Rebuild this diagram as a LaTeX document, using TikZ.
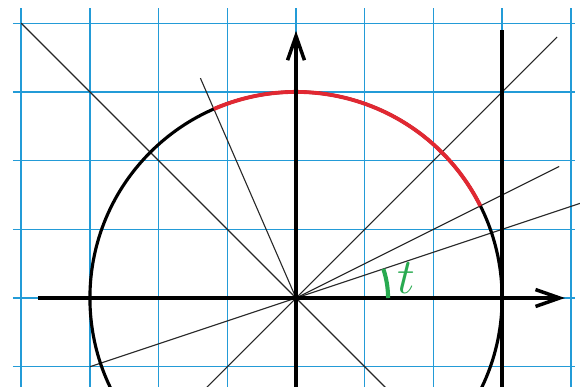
\documentclass[tikz,border=0pt]{standalone}
\usetikzlibrary{arrows.meta}
\definecolor{gridc}{RGB}{35,155,215}
\definecolor{arcred}{RGB}{225,40,50}
\definecolor{anggreen}{RGB}{40,170,80}
\begin{document}
\begin{tikzpicture}[x=1cm,y=1cm,
  gridline/.style={draw=gridc,line width=0.6pt},
  thinline/.style={draw=black!85,line width=0.45pt},
  boldline/.style={draw=black,line width=1.45pt},
  circleline/.style={draw=black,line width=1.3pt},
  redarc/.style={draw=arcred,line width=1.6pt},
  axisarrow/.style={boldline,-{Straight Barb[length=10pt,width=7pt,line width=1.45pt]}},
  anglearc/.style={draw=anggreen,line width=1.7pt},
  anglelabel/.style={text=anggreen,font=\fontsize{21}{21}\selectfont,inner sep=0pt,anchor=base}]
\useasboundingbox (-4.309,-1.295) rectangle (4.134,4.338);
\clip (-4.309,-1.295) rectangle (4.134,4.338);
\fill[white] (-4.309,-1.295) rectangle (4.134,4.338);
% grid
\foreach \x in {-4,...,4} \draw[gridline] (\x,-1.4) -- (\x,4.22);
\foreach \y in {-1,...,4} \draw[gridline] (-4.12,\y) -- (4.06,\y);
% coordinates
\coordinate (O) at (0,0);
\coordinate (d1a) at (-4,4);
\coordinate (d1b) at (1.5,-1.5);
\coordinate (d2a) at (-1.5,-1.5);
\coordinate (d2b) at (3.8,3.8);
\coordinate (s1a) at (-3,-1);
\coordinate (s1b) at (4.3,1.4333);
\coordinate (s2b) at (3.83,1.915);
\coordinate (s3b) at (113.5:3.49);
% thin lines
\draw[thinline] (d1a) -- (d1b);
\draw[thinline] (d2a) -- (d2b);
\draw[thinline] (s1a) -- (s1b);
\draw[thinline] (O) -- (s2b);
\draw[thinline] (O) -- (s3b);
% circle and red arc
\draw[circleline] (O) circle[radius=3];
\draw[redarc] (26.565:3) arc[start angle=26.565,end angle=113.5,radius=3];
% axes
\coordinate (xs) at (-3.755,0);
\coordinate (xe) at (3.915,0);
\coordinate (ys) at (0,-1.4);
\coordinate (ye) at (0,3.89);
\draw[axisarrow] (xs) -- (xe);
\draw[axisarrow] (ys) -- (ye);
% tangent line
\coordinate (ta) at (3,3.9);
\coordinate (tb) at (3,-1.4);
\draw[boldline] (ta) -- (tb);
% angle
\draw[anglearc] (1.34,0) arc[start angle=0,end angle=18.43,radius=1.34];
\node[anglelabel] (t) at (1.6,0.07) {$t$};
\end{tikzpicture}
\end{document}
